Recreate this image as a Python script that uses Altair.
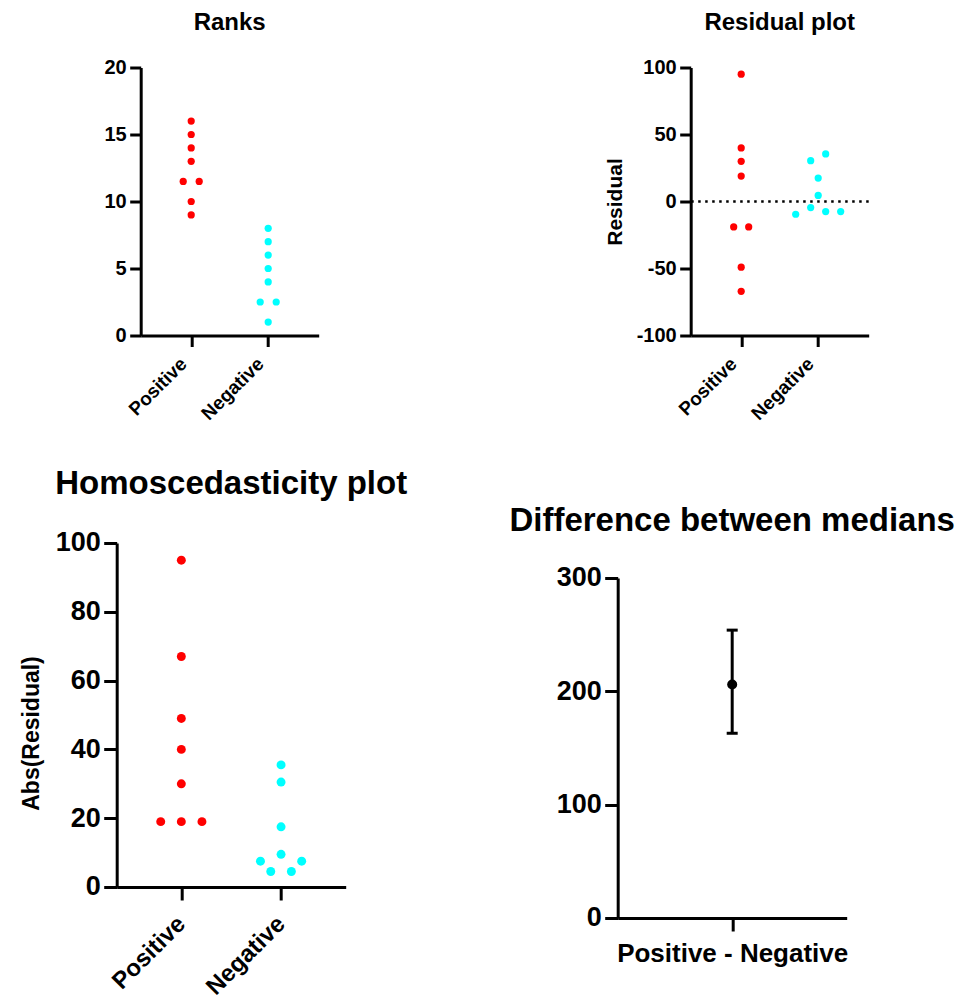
import altair as alt
import pandas as pd

# ---------------- data ----------------
categories = ["Positive", "Negative"]
rank_pos = [16, 15, 14, 13, 11.5, 11.5, 10, 9]
rank_neg = [8, 7, 6, 5, 4, 2.5, 2.5, 1]
resid_pos = [95, 40, 30, 19, -19, -19, -49, -67]
resid_neg = [30.5, 35.5, 17.5, 4.5, -9.5, -4.5, -7.5, -7.5]
abs_pos = [95, 67, 49, 40, 30, 19, 19, 19]
abs_neg = [35.5, 30.5, 17.5, 7.5, 9.5, 7.5, 4.5, 4.5]
diff_label = "Positive - Negative"
diff_median = [206]
diff_low = [163]
diff_high = [254]

FONT = "Liberation Sans"
RED = "#ff0000"
CYAN = "#00ffff"
HYPHEN_EXPR = "replace(datum.label, '\u2212', '-')"


def swarm(groups, px_per_unit, row_px, half_px, step_px):
    """Prism-like column scatter: bin close values into rows, spread rows symmetrically."""
    out = []
    for gi, (cat, vals) in enumerate(groups):
        order = sorted(range(len(vals)), key=lambda i: -vals[i])
        rows = []
        for i in order:
            if rows and (vals[rows[-1][0]] - vals[i]) * px_per_unit <= row_px:
                rows[-1].append(i)
            else:
                rows.append([i])
        for r in rows:
            r = sorted(r)
            n = len(r)
            for k, i in enumerate(r):
                off = (k - (n - 1) / 2) * 2 * half_px
                out.append({"group": cat, "value": vals[i], "pos": gi + off / step_px})
    return pd.DataFrame(out)


def spacer(w, h):
    return alt.Chart(pd.DataFrame({"s": [0]})).mark_point(opacity=0).encode(
        x=alt.X("s:Q", axis=None), y=alt.Y("s:Q", axis=None)
    ).properties(width=w, height=h)


label_expr = "[" + ",".join("'" + c + "'" for c in categories) + "][datum.value]"
color = alt.Color("group:N", scale=alt.Scale(domain=categories, range=[RED, CYAN]), legend=None)


def dot_panel(df, title, title_size, title_offset, ytitle, ydomain, yticks, w, h,
              pad, yfs, xfs, tick, dot, ytitle_x=None, ytitle_y=None, ytitle_size=20,
              rule=False, xlab_pad=8, xlab_off=0):
    x = alt.X("pos:Q", scale=alt.Scale(domain=[-pad, 1 + pad], nice=False, zero=False),
              axis=alt.Axis(values=[0, 1], labelExpr=label_expr, labelAngle=-45,
                            labelAlign="right", labelBaseline="middle", labelPadding=xlab_pad,
                            labelOffset=xlab_off, labelFontSize=xfs, tickSize=tick, title=None))
    yaxis_kw = dict(values=yticks, labelFontSize=yfs, tickSize=tick, labelPadding=3.5,
                    labelExpr=HYPHEN_EXPR)
    if ytitle:
        yaxis_kw.update(title=ytitle, titleFontSize=ytitle_size, titleAngle=-90,
                        titleX=ytitle_x, titleY=ytitle_y, titleAlign="center",
                        titleBaseline="alphabetic")
    else:
        yaxis_kw.update(title=None)
    y = alt.Y("value:Q", scale=alt.Scale(domain=ydomain, nice=False, zero=False),
              axis=alt.Axis(**yaxis_kw))
    pts = alt.Chart(df).mark_circle(size=dot, opacity=1).encode(x=x, y=y, color=color)
    layers = [pts]
    if rule:
        zl = alt.Chart(pd.DataFrame({"value": [0]})).mark_rule(
            color="black", strokeWidth=2.5, strokeDash=[2.5, 4.5]
        ).encode(y="value:Q")
        layers = [zl, pts]
    return alt.layer(*layers).properties(
        width=w, height=h,
        title=alt.TitleParams(title, fontSize=title_size, font=FONT, fontWeight="bold",
                              anchor="middle", frame="group", baseline="alphabetic",
                              offset=title_offset, color="black"),
    )


# ---- top row ----
TOP_W, TOP_H, TOP_STEP, TOP_PAD = 178, 268, 77, 0.656
df_rank = swarm([(categories[0], rank_pos), (categories[1], rank_neg)],
                TOP_H / 20, 9, 8, TOP_STEP)
p1 = dot_panel(df_rank, "Ranks", 24, 4, None, [0, 20], [0, 5, 10, 15, 20],
               TOP_W, TOP_H, TOP_PAD, 20, 19, 11, 52, xlab_pad=14, xlab_off=-8)

df_res = swarm([(categories[0], resid_pos), (categories[1], resid_neg)],
               TOP_H / 200, 9, 7.5, TOP_STEP)
p2 = dot_panel(df_res, "Residual plot", 24, 4, "Residual", [-100, 100],
               [-100, -50, 0, 50, 100], TOP_W, TOP_H, TOP_PAD, 20, 19, 11, 52,
               ytitle_x=-69, ytitle_y=TOP_H / 2, ytitle_size=21, rule=True,
               xlab_pad=14, xlab_off=-8)

# ---- bottom row ----
BOT_W, BOT_H, BOT_STEP, BOT_PAD = 229, 344, 99.7, 0.648
df_abs = swarm([(categories[0], abs_pos), (categories[1], abs_neg)],
               BOT_H / 100, 9, 10.3, BOT_STEP)
p3 = dot_panel(df_abs, "Homoscedasticity plot", 33, 2, "Abs(Residual)", [0, 100],
               [0, 20, 40, 60, 80, 100], BOT_W, BOT_H, BOT_PAD, 27, 24, 13, 80,
               ytitle_x=-78, ytitle_y=190, ytitle_size=23, xlab_pad=20)

df_diff = pd.DataFrame({"label": [diff_label], "pos": [0], "median": diff_median,
                        "low": diff_low, "high": diff_high})
P4_H = 340
x4 = alt.X("pos:Q", scale=alt.Scale(domain=[-1, 1], nice=False, zero=False),
           axis=alt.Axis(values=[0], labelExpr="'" + diff_label + "'", labelAngle=0,
                         labelAlign="center", labelBaseline="top", labelPadding=10,
                         labelFontSize=26, labelLimit=0, tickSize=13, title=None))
y4 = alt.Y("median:Q", scale=alt.Scale(domain=[0, 300], nice=False, zero=False),
           axis=alt.Axis(values=[0, 100, 200, 300], labelFontSize=27, tickSize=13,
                         labelPadding=3.5, title=None))
base4 = alt.Chart(df_diff)
bar4 = base4.mark_rule(color="black", strokeWidth=3, opacity=1).encode(x=x4, y=y4, y2="high:Q")
bar4b = base4.mark_rule(color="black", strokeWidth=3, opacity=1).encode(x=x4, y="low:Q", y2="median:Q")
cap_hi = base4.mark_tick(color="black", thickness=3, size=11, orient="horizontal",
                         opacity=1).encode(x=x4, y="high:Q")
cap_lo = base4.mark_tick(color="black", thickness=3, size=11, orient="horizontal",
                         opacity=1).encode(x=x4, y="low:Q")
pt4 = base4.mark_circle(color="black", size=100, opacity=1).encode(x=x4, y=y4)
p4 = alt.layer(bar4, bar4b, cap_hi, cap_lo, pt4).properties(
    width=BOT_W, height=P4_H,
    title=alt.TitleParams("Difference between medians", fontSize=33, font=FONT,
                          fontWeight="bold", anchor="middle", frame="group",
                          baseline="alphabetic", offset=0, color="black"),
)

top_row = alt.hconcat(spacer(23.3, TOP_H), p1, spacer(371.3, TOP_H), p2,
                      spacing=0, bounds="flush")
p4_col = alt.vconcat(spacer(BOT_W, 35), p4, spacing=0, bounds="flush")
bottom_row = alt.hconcat(p3, spacer(272, BOT_H), p4_col, spacing=0, bounds="flush")

# nested rows report no height in flush mode, so the row gap includes the top row height
chart = alt.vconcat(top_row, bottom_row, spacing=TOP_H + 207.5, bounds="flush").properties(
    padding={"left": 20.7, "top": 10.5, "right": 5, "bottom": 5}
).configure_view(stroke=None).configure_axis(
    grid=False, domainColor="black", domainWidth=3, tickColor="black", tickWidth=3,
    labelFont=FONT, labelFontWeight="bold", labelColor="black",
    titleFont=FONT, titleFontWeight="bold", titleColor="black",
    labelOverlap=False, labelFlush=False,
)

chart.save("out.html", embed_options={"renderer": "svg", "actions": False})
